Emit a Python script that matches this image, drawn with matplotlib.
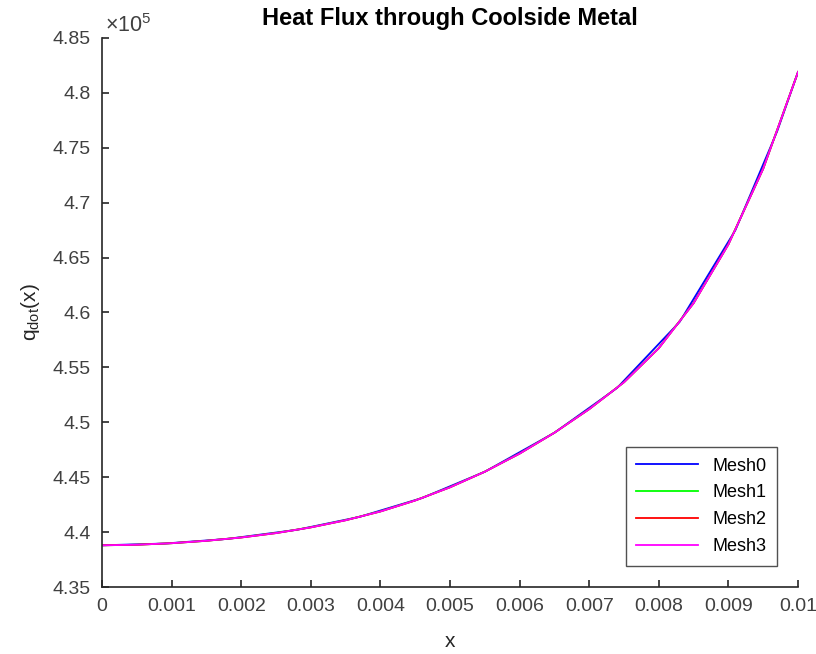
"""
Heat flux through the coolside metal for four mesh refinements.
"""

import matplotlib
matplotlib.use("Agg")
import matplotlib.pyplot as plt
from matplotlib.ticker import FuncFormatter, MultipleLocator

plt.rcParams['font.family'] = ['Liberation Sans', 'DejaVu Sans']
plt.rcParams['mathtext.fontset'] = 'custom'
plt.rcParams['mathtext.rm'] = 'Liberation Sans'

# Mesh0 (coarse, non-uniform nodes)
x_mesh0 = [0, 0.0009, 0.0018, 0.0028, 0.0037, 0.0046, 0.0055,
           0.0065, 0.0074, 0.0083, 0.0091, 0.0097, 0.01]
q_mesh0 = [438800, 438960, 439380, 440210, 441390, 443110, 445500,
           449050, 453130, 459150, 467500, 476500, 481900]

# Mesh1..Mesh3 share the refined node set
x_fine = [0, 0.0005, 0.001, 0.0015, 0.002, 0.0025, 0.003, 0.0035,
          0.004, 0.0045, 0.005, 0.0055, 0.006, 0.0065, 0.007, 0.0075,
          0.008, 0.0085, 0.009, 0.0095, 0.01]
q_mesh1 = [438800, 438850, 438990, 439210, 439520, 439920, 440440, 441090,
           441890, 442890, 444090, 445510, 447160, 449060, 451210, 453660,
           456770, 460870, 466220, 473110, 481910]
q_mesh2 = [438800, 438850, 438990, 439210, 439510, 439910, 440430, 441080,
           441880, 442880, 444080, 445500, 447150, 449050, 451200, 453650,
           456750, 460860, 466210, 473100, 481900]
q_mesh3 = [438800, 438850, 438990, 439210, 439510, 439910, 440430, 441080,
           441880, 442880, 444080, 445500, 447150, 449050, 451200, 453650,
           456750, 460850, 466200, 473100, 481900]

fig = plt.figure(figsize=(8.16, 6.54), dpi=100)
ax = fig.add_axes([0.125, 0.1024, 0.853, 0.8396])

ax.plot(x_mesh0, q_mesh0, color=(0, 0, 1), lw=1.3, label='Mesh0')
ax.plot(x_fine, q_mesh1, color=(0, 1, 0), lw=1.3, label='Mesh1')
ax.plot(x_fine, q_mesh2, color=(1, 0, 0), lw=1.3, label='Mesh2')
ax.plot(x_fine, q_mesh3, color=(1, 0, 1), lw=1.3, label='Mesh3')

ax.set_xlim(0, 0.01)
ax.set_ylim(435000, 485000)
ax.xaxis.set_major_locator(MultipleLocator(0.001))
ax.yaxis.set_major_locator(MultipleLocator(5000))
ax.xaxis.set_major_formatter(FuncFormatter(lambda v, p: f'{round(v, 6):g}'))
ax.yaxis.set_major_formatter(FuncFormatter(lambda v, p: f'{round(v / 1e5, 4):g}'))

gray = '#262626'
for side in ['top', 'right']:
    ax.spines[side].set_visible(False)
for side in ['left', 'bottom']:
    ax.spines[side].set_color(gray)
    ax.spines[side].set_linewidth(1.2)
ax.tick_params(direction='in', length=5, width=1.2, colors=gray,
               labelcolor='#404040', labelsize=14, pad=8)

ax.text(0.005, 1.002, r'$\times10^5$', transform=ax.transAxes,
        fontsize=15.5, color='#404040', ha='left', va='bottom')

ax.set_title('Heat Flux through Coolside Metal', fontsize=17,
             fontweight='bold', pad=9)
ax.set_xlabel('x', fontsize=15, color='#262626', labelpad=12)
ax.set_ylabel(r'q$_{\mathregular{dot}}$(x)', fontsize=15, color='#262626',
              labelpad=8)

leg = ax.legend(loc='lower right', fontsize=13, frameon=True, fancybox=False,
                handlelength=3.4, labelspacing=0.55, borderpad=0.6,
                borderaxespad=0, bbox_to_anchor=(0.97, 0.038))
leg.get_frame().set_edgecolor('#262626')
leg.get_frame().set_linewidth(1.0)

fig.savefig('out.png', dpi=100)
